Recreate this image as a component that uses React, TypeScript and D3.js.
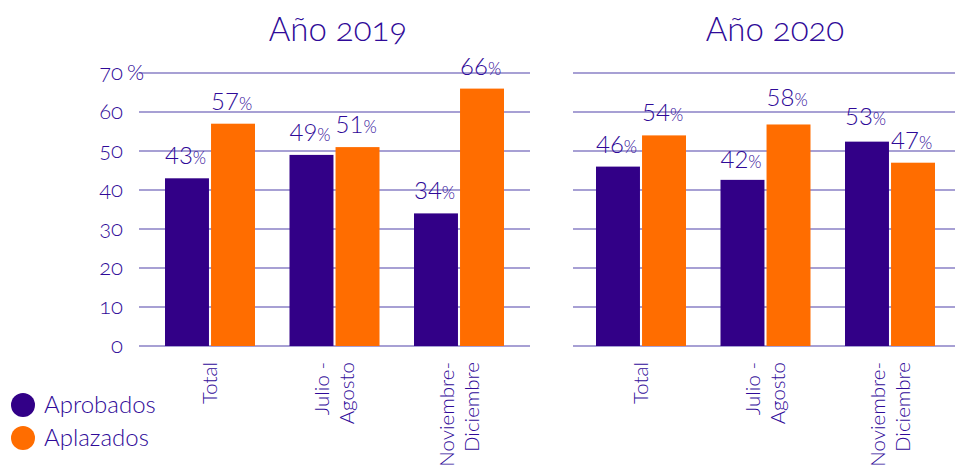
import React from "react";
import * as d3 from "d3";

const categories = ["Total", "Julio -\nAgosto", "Noviembre-\nDiciembre"];
const series = ["Aprobados", "Aplazados"];
const years = ["Año 2019", "Año 2020"];
const aprobados2019 = [43, 49, 34];
const aplazados2019 = [57, 51, 66];
const aprobados2020 = [46, 42.6, 52.4];
const aplazados2020 = [54, 56.8, 47];
const labelsAprob2019 = ["43", "49", "34"];
const labelsAplaz2019 = ["57", "51", "66"];
const labelsAprob2020 = ["46", "42", "53"];
const labelsAplaz2020 = ["54", "58", "47"];
const labelVals2019 = [[43, 57], [49, 51], [34, 66]];
const labelVals2020 = [[46, 54], [42, 58], [53, 47]];
const yTicks = [0, 10, 20, 30, 40, 50, 60, 70];

const TEXT = "#2f0a98";
const COLORS = ["#320087", "#ff6d00"];
const GRID = "#8a80c6";
const FONT = "Lato, 'Open Sans', sans-serif";

const y = d3.scaleLinear().domain([0, 70]).range([346, 73]);

const panels = [
  {
    title: years[0],
    titleX: 338,
    grid: [139, 530],
    range: [147.75, 521.25] as [number, number],
    vals: [aprobados2019, aplazados2019],
    labels: [labelsAprob2019, labelsAplaz2019],
    labelVals: labelVals2019,
  },
  {
    title: years[1],
    titleX: 775,
    grid: [573, 955],
    range: [578.75, 952.25] as [number, number],
    vals: [aprobados2020, aplazados2020],
    labels: [labelsAprob2020, labelsAplaz2020],
    labelVals: labelVals2020,
  },
];

export default function App() {
  return (
    <svg width={955} height={471} style={{ position: "absolute", left: 0, top: 0 }} fontFamily={FONT} fontWeight={300}>
      {panels.map((p, pi) => {
        const x0 = d3.scaleBand().domain(categories).range(p.range).paddingInner(0).paddingOuter(0);
        const groupW = 90;
        const x1 = d3.scaleBand().domain(series).range([0, groupW]).paddingInner(0.045);
        return (
          <g key={pi}>
            <text x={p.titleX} y={41} textAnchor="middle" fontSize={33} fill={TEXT} style={{ fontVariantNumeric: "oldstyle-nums" }}>
              {p.title}
            </text>
            {yTicks.map((t) => (
              <line key={t} x1={p.grid[0]} x2={p.grid[1]} y1={y(t)} y2={y(t)} stroke={GRID} strokeWidth={1.3} />
            ))}
            {categories.map((c, ci) => {
              const gx = (x0(c) as number) + x0.bandwidth() / 2 - groupW / 2;
              return (
                <g key={c}>
                  {series.map((s, si) => {
                    const v = p.vals[si][ci];
                    const bx = gx + (x1(s) as number);
                    const lv = p.labelVals[ci][si];
                    return (
                      <g key={s}>
                        <rect x={bx} y={y(v)} width={x1.bandwidth()} height={y(0) - y(v)} fill={COLORS[si]} />
                        <text x={bx} y={y(lv) - 14} fontSize={24} fill={TEXT}>
                          {p.labels[si][ci]}
                          <tspan fontSize={17}>%</tspan>
                        </text>
                      </g>
                    );
                  })}
                  {(() => {
                    const lines = c.split("\n");
                    const cx = (x0(c) as number) + x0.bandwidth() / 2;
                    const lh = 25;
                    return (
                      <text transform={`translate(${cx},362) rotate(-90)`} textAnchor="end" fontSize={20.5} fill={TEXT}>
                        {lines.map((l, li) => (
                          <tspan key={li} x={0} y={(li - (lines.length - 1) / 2) * lh + 7}>
                            {l}
                          </tspan>
                        ))}
                      </text>
                    );
                  })()}
                </g>
              );
            })}
          </g>
        );
      })}
      {yTicks.map((t) => (
        <text key={t} x={123} y={y(t) + 7} textAnchor="end" fontSize={22} fill={TEXT} style={{ fontVariantNumeric: "oldstyle-nums" }}>
          {t}
        </text>
      ))}
      <text x={127} y={y(70) + 7} fontSize={22} fill={TEXT}>%</text>
      {series.map((s, si) => (
        <g key={s}>
          <circle cx={23} cy={405 + si * 33} r={12} fill={COLORS[si]} />
          <text x={44} y={413 + si * 33} fontSize={24} fill={TEXT}>{s}</text>
        </g>
      ))}
    </svg>
  );
}
